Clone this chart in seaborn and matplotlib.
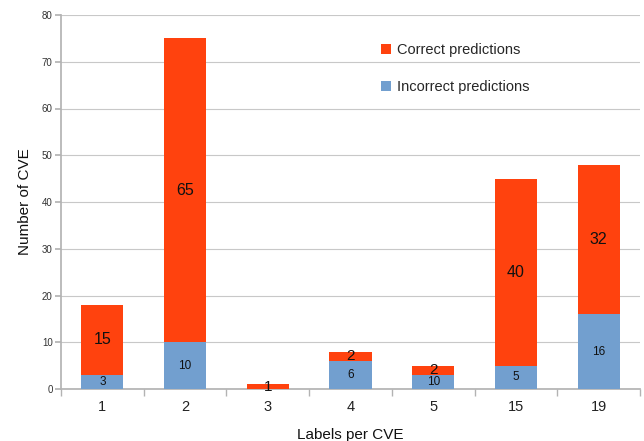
import matplotlib
matplotlib.use("Agg")
import matplotlib.pyplot as plt
import seaborn as sns
import pandas as pd
import numpy as np

categories = ["1", "2", "3", "4", "5", "15", "19"]
incorrect = [3, 10, 0, 6, 3, 5, 16]
correct = [15, 65, 1, 2, 2, 40, 32]
incorrect_labels = ["3", "10", "", "6", "10", "5", "16"]
correct_labels = ["15", "65", "1", "2", "2", "40", "32"]

sns.set_theme(style="white")
plt.rcParams['font.family'] = ['Liberation Sans', 'DejaVu Sans']

blue = "#729fcf"
red = "#ff420e"

df = pd.DataFrame({"cat": categories, "incorrect": incorrect, "correct": correct})
df["total"] = df["incorrect"] + df["correct"]

fig = plt.figure(figsize=(6.44, 4.41), dpi=100)
ax = fig.add_axes([61/644, 1-389/441, 579/644, 374/441])

sns.barplot(data=df, x="cat", y="total", color=red, width=0.51, ax=ax,
            saturation=1, label="Correct predictions", zorder=3, linewidth=0)
sns.barplot(data=df, x="cat", y="incorrect", color=blue, width=0.51, ax=ax,
            saturation=1, label="Incorrect predictions", zorder=3, linewidth=0)

ax.set_ylim(0, 80)
ax.set_xlim(-0.5, 6.5)
ax.set_yticks(range(0, 81, 10))
ax.yaxis.grid(True, color="#c8c8c8", linewidth=0.8, zorder=0)
ax.set_axisbelow(True)
for s in ["top", "right"]:
    ax.spines[s].set_visible(False)
ax.spines["left"].set_color("#b3b3b3")
ax.spines["bottom"].set_color("#b3b3b3")
ax.tick_params(axis="y", labelsize=7, colors="#333333", length=4, color="#b3b3b3", left=True, pad=2)
ax.tick_params(axis="x", labelsize=10.5, colors="#222222", length=0, pad=8)
ax.set_xticks(np.arange(-0.5, 7, 1), minor=True)
ax.tick_params(axis="x", which="minor", length=5, color="#b3b3b3", bottom=True)
ax.set_ylabel("Number of CVE", fontsize=11, color="#111111", labelpad=7)
ax.set_xlabel("Labels per CVE", fontsize=11, color="#111111", labelpad=10)

for i in range(len(categories)):
    inc = incorrect[i]
    cor = correct[i]
    if incorrect_labels[i]:
        ax.text(i, inc / 2, incorrect_labels[i], ha="center", va="center", fontsize=8.5, color="#111111", zorder=5)
    fs = 11.5 if cor >= 10 else 11
    ax.text(i, inc + cor / 2, correct_labels[i], ha="center", va="center", fontsize=fs, color="#111111", zorder=5)

handles, labels = ax.get_legend_handles_labels()
leg = ax.legend(handles, labels, loc="upper left", bbox_to_anchor=(0.53, 0.96), frameon=False,
                fontsize=10.5, labelspacing=1.6, handlelength=0.7, handleheight=0.7, handletextpad=0.4)

fig.savefig("out.png", dpi=100)
